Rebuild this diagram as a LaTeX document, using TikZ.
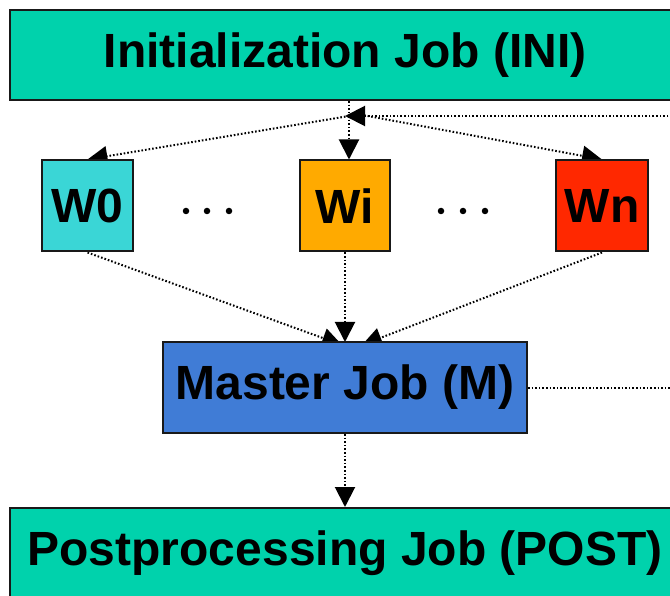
\documentclass[tikz,border=0pt]{standalone}
\usepackage{fontspec}
\setmainfont{Liberation Sans}
\usetikzlibrary{arrows.meta,calc}
\pgfdeclarelayer{bg}
\pgfsetlayers{bg,main}
\definecolor{inigreen}{RGB}{0,210,172}
\definecolor{wcyan}{RGB}{58,214,214}
\definecolor{worange}{RGB}{255,170,0}
\definecolor{wred}{RGB}{255,40,0}
\definecolor{mblue}{RGB}{64,124,214}
\definecolor{edge}{RGB}{25,25,25}
\tikzset{
  box/.style={draw=edge, line width=2pt, inner sep=0pt, font=\fontsize{48}{57}\selectfont\bfseries},
  conn/.style={line width=2pt, dash pattern=on 1.6pt off 2pt, -{Triangle[length=20pt,width=20pt]}},
  plain/.style={line width=2pt, dash pattern=on 1.6pt off 2pt},
  dotmark/.style={circle, fill=black, inner sep=0pt, minimum size=6.5pt}
}
\begin{document}
\begin{tikzpicture}[x=1pt,y=-1pt]
\useasboundingbox (0,0) rectangle (670,596);
\clip (0,0) rectangle (670,596);
\node[box, fill=inigreen, minimum width=670pt, minimum height=90pt] (ini) at (345,55) {Initialization Job (INI)};
\node[box, fill=wcyan, minimum width=91pt, minimum height=91pt] (w0) at (87.5,206) {W0};
\node[box, fill=worange, minimum width=90pt, minimum height=91pt] (wi) at (345,206) {Wi};
\node[box, fill=wred, minimum width=92pt, minimum height=91pt] (wn) at (602,206) {Wn};
\node[box, fill=mblue, minimum width=364pt, minimum height=91pt] (m) at (345,387.5) {Master Job (M)};
\node[box, fill=inigreen, minimum width=670pt, minimum height=90pt] (post) at (345,553) {Postprocessing Job (POST)};
\node[dotmark] (d1) at (186,211) {};
\node[dotmark] (d2) at (207,211) {};
\node[dotmark] (d3) at (229,211) {};
\node[dotmark] (d4) at (441,211) {};
\node[dotmark] (d5) at (463,211) {};
\node[dotmark] (d6) at (485,211) {};
\coordinate (j) at (349,116);
\coordinate (rtop) at (690,116);
\coordinate (rmid) at (690,387.5);
\begin{pgfonlayer}{bg}
\draw[plain] (ini.south -| j) -- (j);
\draw[conn] (j) -- (wi.north -| j);
\draw[conn] (rtop) -- ([xshift=-4pt]j);
\draw[conn] (j) -- (w0.north);
\draw[conn] ([xshift=8pt,yshift=2pt]j) -- (wn.north);
\draw[conn] (w0.south) -- ($(m.north)+(-3,4)$);
\draw[conn] (wi.south) -- ($(m.north)+(0,1)$);
\draw[conn] (wn.south) -- ($(m.north)+(17,4)$);
\draw[plain] (m.east) -- (rmid);
\draw[conn] (m.south) -- (post.north);
\end{pgfonlayer}
\end{tikzpicture}
\end{document}
